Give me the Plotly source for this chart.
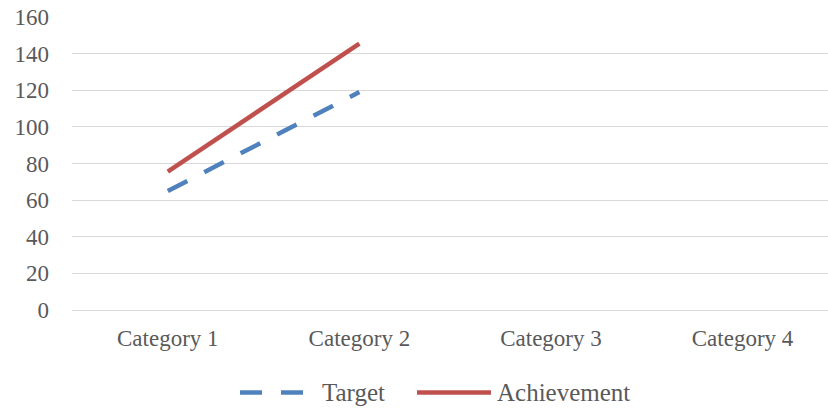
import plotly.graph_objects as go

categories = ["Category 1", "Category 2", "Category 3", "Category 4"]
target = [65, 119, None, None]
achievement = [75.5, 145.5, None, None]
y_ticks = [0, 20, 40, 60, 80, 100, 120, 140, 160]
series_names = ["Target", "Achievement"]
series_colors = ["#4f81bd", "#c0504d"]
series_dash = ["22px,19px", "solid"]

FONT = "Liberation Serif"
GRAY = "#595959"
W, H = 828, 410
ML, MR, MT, MB = 72, 0, 17, 100

fig = go.Figure()
for name, vals, col, dash in zip(series_names, [target, achievement], series_colors, series_dash):
    fig.add_trace(go.Scatter(
        x=categories, y=vals, name=name, mode="lines",
        line=dict(color=col, width=4.5, dash=dash),
        showlegend=False,
    ))

# manual legend (long line samples like the original)
pw, ph = W - ML - MR, H - MT - MB
def px_x(p):
    return (p - ML) / pw
def px_y(p):
    return (H - MB - p) / ph

legend_y = 392.5
legend_items = [
    (240, 306, 320),
    (417, 491, 495),
]
for (x0, x1, tx), name, col, dash in zip(legend_items, series_names, series_colors, series_dash):
    fig.add_shape(type="line", xref="paper", yref="paper",
                  x0=px_x(x0), x1=px_x(x1), y0=px_y(legend_y), y1=px_y(legend_y),
                  line=dict(color=col, width=4.5, dash=dash))
    fig.add_annotation(xref="paper", yref="paper", x=px_x(tx), y=px_y(legend_y),
                       text=name, showarrow=False, xanchor="left", yanchor="middle",
                       font=dict(family=FONT, size=25, color=GRAY))

fig.update_layout(
    width=W, height=H,
    margin=dict(l=ML, r=MR, t=MT, b=MB),
    paper_bgcolor="white", plot_bgcolor="white",
    font=dict(family=FONT, size=23, color=GRAY),
    showlegend=False,
    xaxis=dict(
        type="category", range=[-0.5, 3.446],
        showgrid=False, zeroline=False, showline=False, ticks="",
        ticklabelstandoff=12,
    ),
    yaxis=dict(
        range=[0, 160], tickvals=y_ticks, ticktext=[str(v) for v in y_ticks],
        showgrid=True, gridcolor="#d9d9d9", gridwidth=1,
        zeroline=True, zerolinecolor="#d9d9d9", zerolinewidth=1,
        showline=False, ticks="", ticklabelstandoff=22,
    ),
)

fig.write_html("out.html")
